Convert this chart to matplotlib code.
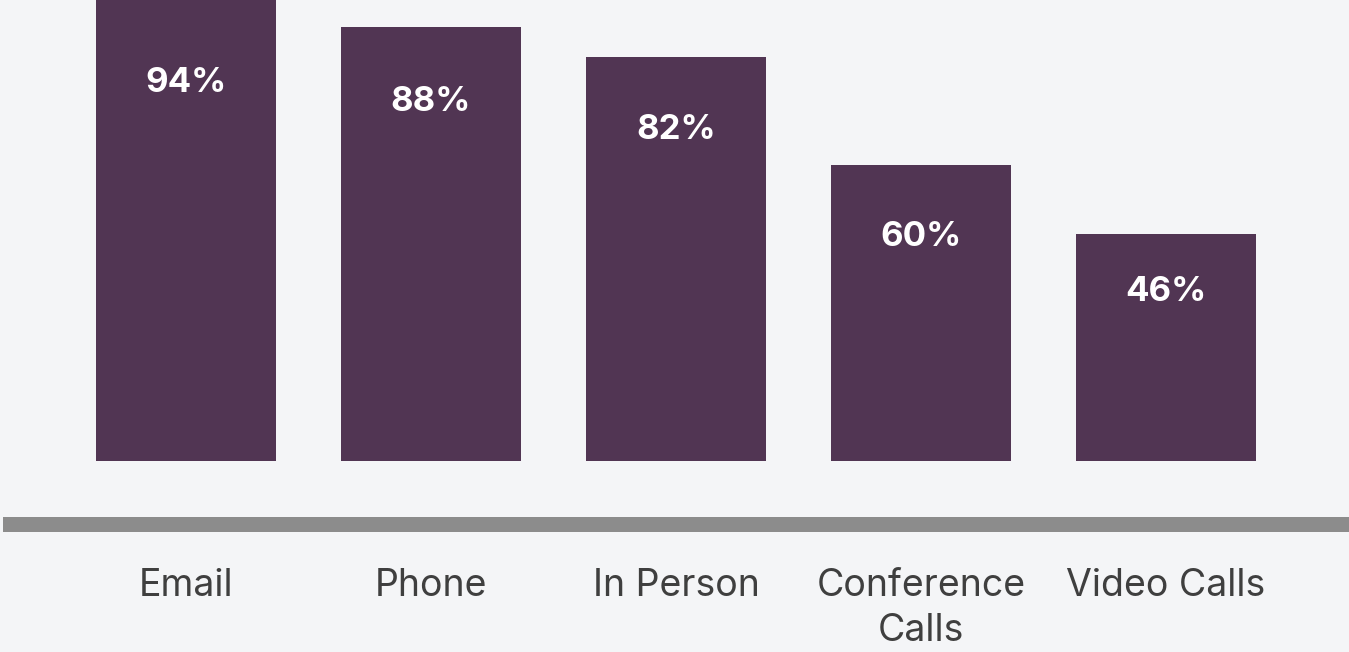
import matplotlib
matplotlib.use("Agg")
import matplotlib.pyplot as plt
from matplotlib.patches import Rectangle

categories = ["Email", "Phone", "In Person", "Conference\nCalls", "Video Calls"]
values = [94, 88, 82, 60, 46]

BG = "#f4f5f7"
BAR = "#513553"
RULE = "#8c8c8c"
TEXT = "#3f3f3f"

W, H = 1349, 652
fig = plt.figure(figsize=(W / 100, H / 100), dpi=100, facecolor=BG)
ax = fig.add_axes([0, 0, 1, 1])
ax.set_facecolor(BG)

# pixel layout: bar centres every 245 px starting at 186, baseline at y=461
step, first_c, base_y, ppu = 245.0, 186.0, 461.0, 4.93
ax.set_xlim((0 - first_c) / step, (W - first_c) / step)
ax.set_ylim(-(H - base_y) / ppu, base_y / ppu)
ax.axis("off")

xs = list(range(len(values)))
ax.bar(xs, values, width=180 / step, color=BAR, linewidth=0)

# value labels inside the bars (offset below bar top, in px)
label_drop = [85, 75, 73, 72, 58]
for x, v, d in zip(xs, values, label_drop):
    ax.text(x, v - d / ppu, f"{v}%", ha="center", va="center", color="white",
            fontsize=25, fontweight="bold", family="Inter")

# thick grey rule under the bars
fig.add_artist(Rectangle((3 / W, (H - 532) / H), 1 - 3 / W, 15 / H,
                         transform=fig.transFigure, color=RULE, linewidth=0))

# category labels
for x, c in zip(xs, categories):
    ax.text(x, -(568 - base_y) / ppu, c, ha="center", va="top", color=TEXT,
            fontsize=27, family="Inter", linespacing=1.32)

fig.savefig("out.png", dpi=100, facecolor=BG)
